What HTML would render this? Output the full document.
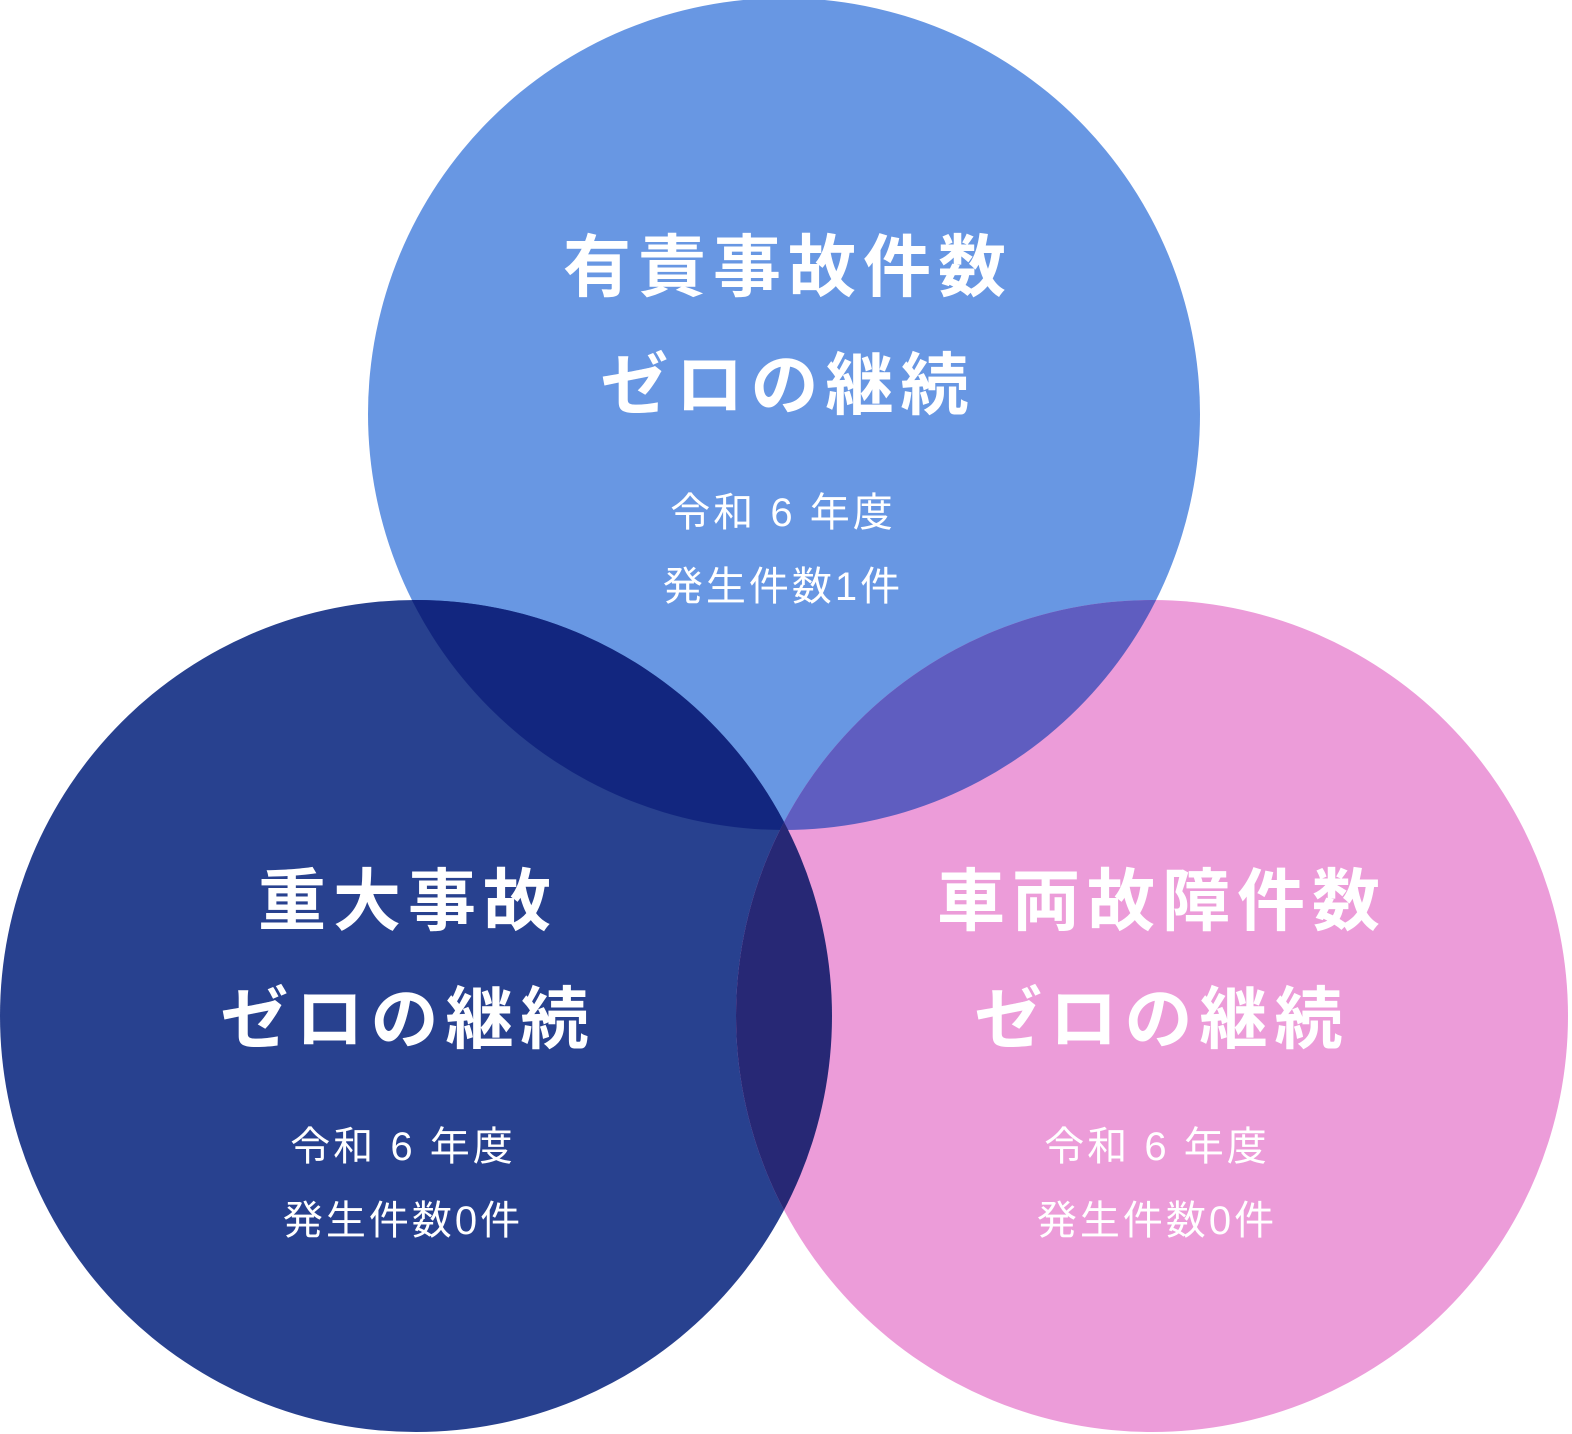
<!DOCTYPE html>
<html><head><meta charset="utf-8"><style>
html,body{margin:0;padding:0;background:#fff;}
svg{display:block;}
text{font-family:"Liberation Sans","Noto Sans CJK JP",sans-serif;fill:#fff;text-anchor:middle;}
.t{font-size:68px;font-weight:bold;letter-spacing:7px;}
.s{font-size:40px;letter-spacing:3px;}
</style></head><body>
<svg width="1572" height="1434" viewBox="0 0 1572 1434" xmlns="http://www.w3.org/2000/svg">
<defs>
<clipPath id="cT"><circle cx="784" cy="414" r="416"/></clipPath>
<clipPath id="cL"><circle cx="416" cy="1016" r="416"/></clipPath>
</defs>
<circle cx="784" cy="414" r="416" fill="#6897E3"/>
<circle cx="416" cy="1016" r="416" fill="#28418F"/>
<circle cx="1152" cy="1016" r="416" fill="#EC9CD9"/>
<circle cx="416" cy="1016" r="416" fill="#12267F" clip-path="url(#cT)"/>
<circle cx="1152" cy="1016" r="416" fill="#5F5DC0" clip-path="url(#cT)"/>
<circle cx="1152" cy="1016" r="416" fill="#272875" clip-path="url(#cL)"/>
<text class="t" x="788" y="291">有責事故件数</text>
<text class="t" x="788" y="409">ゼロの継続</text>
<text class="s" x="783" y="526">令和 6 年度</text>
<text class="s" x="783" y="600">発生件数1件</text>
<text class="t" x="408" y="925">重大事故</text>
<text class="t" x="408" y="1043">ゼロの継続</text>
<text class="s" x="403" y="1160">令和 6 年度</text>
<text class="s" x="403" y="1234">発生件数0件</text>
<text class="t" x="1162" y="925">車両故障件数</text>
<text class="t" x="1162" y="1043">ゼロの継続</text>
<text class="s" x="1157" y="1160">令和 6 年度</text>
<text class="s" x="1157" y="1234">発生件数0件</text>
</svg>
</body></html>
